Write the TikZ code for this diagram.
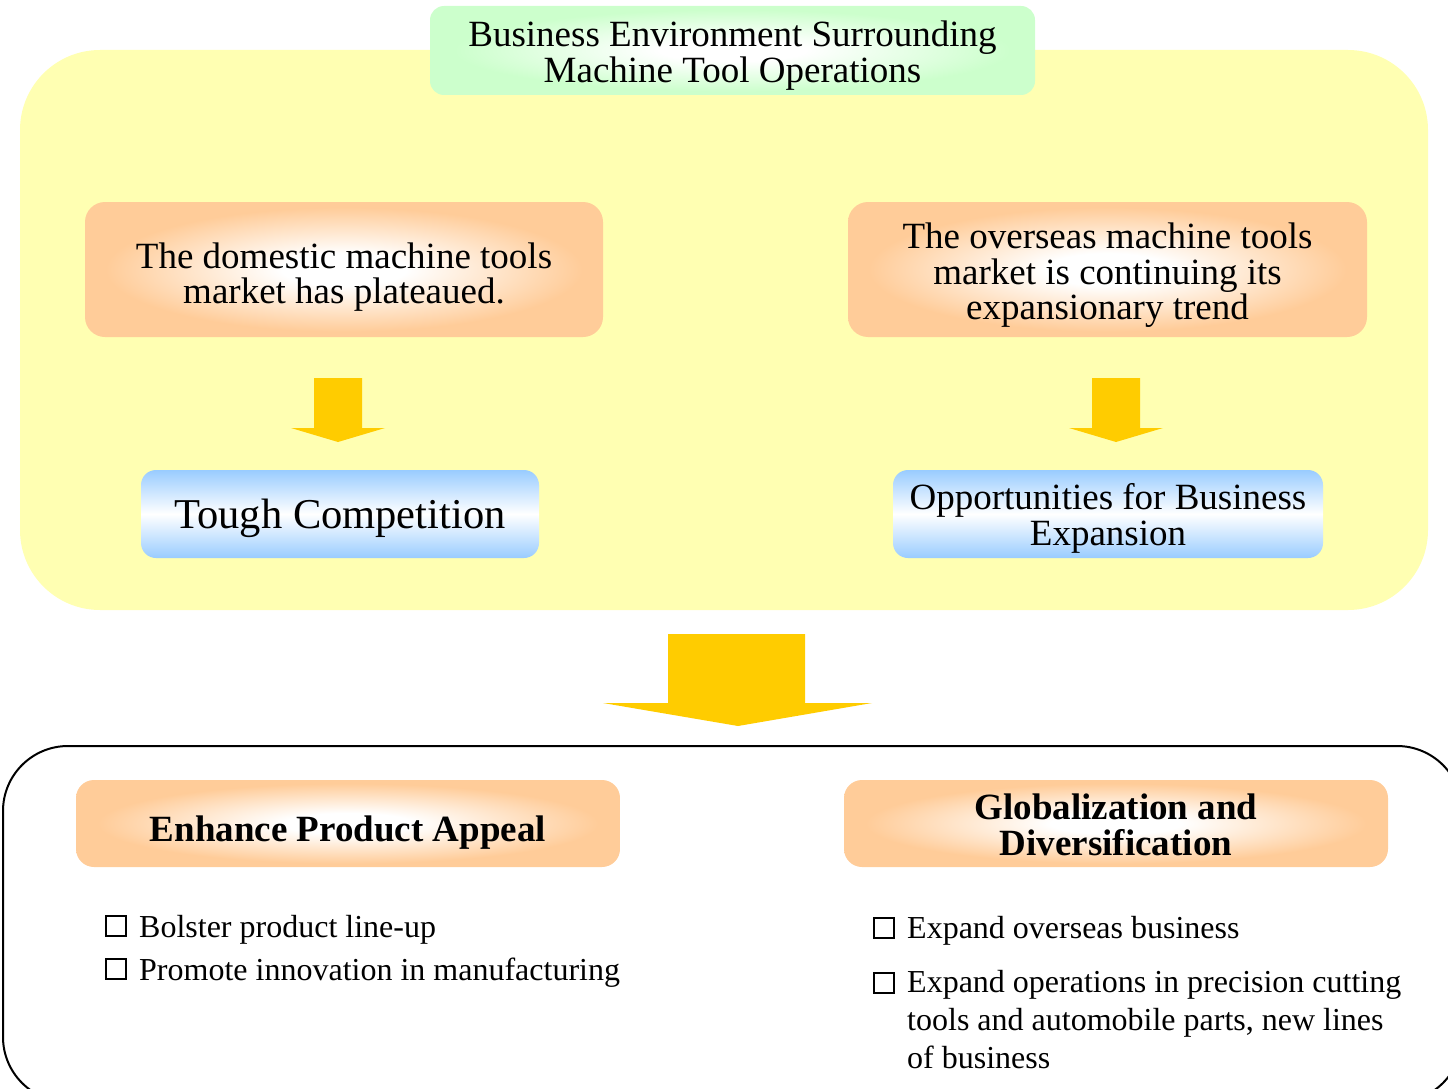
\documentclass[tikz,border=0pt]{standalone}
\usepackage{fontspec}
\setmainfont{Liberation Serif}
\definecolor{peach}{RGB}{255,204,153}
\definecolor{mint}{RGB}{204,255,204}
\definecolor{sky}{RGB}{153,204,255}
\definecolor{pale}{RGB}{255,255,178}
\definecolor{gold}{RGB}{255,204,0}
\pgfdeclareradialshading{peachglow}{\pgfpoint{0bp}{0bp}}{color(0bp)=(white); color(6bp)=(white); color(23bp)=(peach); color(50bp)=(peach)}
\pgfdeclareradialshading{mintglow}{\pgfpoint{0bp}{0bp}}{color(0bp)=(white); color(6bp)=(white); color(23bp)=(mint); color(50bp)=(mint)}
\newcommand\bigtxt{\fontsize{37}{35.5}\selectfont}
\newcommand\listtxt{\fontsize{32}{38}\selectfont}
\tikzset{
  panel/.style={inner sep=0pt, rounded corners=18pt},
  titlebox/.style={panel, shading=mintglow, rounded corners=14pt},
  factbox/.style={panel, shading=peachglow, rounded corners=20pt},
  resultbox/.style={panel, rounded corners=15pt, top color=sky, bottom color=sky, middle color=white},
  goalbox/.style={panel, shading=peachglow, rounded corners=18pt},
  label/.style={inner sep=0pt, align=center, font=\bigtxt},
  boldlabel/.style={label, font=\bigtxt\bfseries},
  blockarrow/.style={fill=gold, draw=none},
  sqbox/.style={draw, line width=1.9pt, minimum size=20.5pt, inner sep=0pt},
  item/.style={anchor=base west, inner sep=0pt, font=\listtxt},
}
\begin{document}
\begin{tikzpicture}[x=1pt, y=-1pt]
\useasboundingbox (0,0) rectangle (1448,1089);
\clip (0,0) rectangle (1448,1089);

% environment panel
\fill[pale, rounded corners=80pt] (20,50) rectangle (1428,610);

\node[titlebox, minimum width=605pt, minimum height=89pt] (title) at (732.5,50.5) {};
\node[label] (titletext) at ([yshift=-5pt]title.center)
  {Business Environment Surrounding\\Machine Tool Operations};

\node[factbox, minimum width=518pt, minimum height=135pt] (dom) at (344,269.5) {};
\node[label] (domtext) at ([yshift=-7.5pt]dom.center)
  {The domestic machine tools\\market has plateaued.};
\node[factbox, minimum width=519pt, minimum height=135pt] (ovs) at (1107.5,269.5) {};
\node[label] (ovstext) at ([yshift=-6pt]ovs.center)
  {The overseas machine tools\\market is continuing its\\expansionary trend};

\node[resultbox, minimum width=398pt, minimum height=88pt] (tough) at (340,514) {};
\node[label, font=\fontsize{42.5}{42}\selectfont] (toughtext) at ([yshift=-4pt]tough.center)
  {Tough Competition};
\node[resultbox, minimum width=430pt, minimum height=88pt] (opp) at (1108,514) {};
\node[label] (opptext) at ([yshift=-4.5pt]opp.center)
  {Opportunities for Business\\Expansion};

% small arrows between the panel rows
\fill[blockarrow] (314,378) -- (362,378) -- (362,428) -- (385,428) -- (338,442)
  -- (291,428) -- (314,428) -- cycle;
\fill[blockarrow] (1092,378) -- (1140,378) -- (1140,428) -- (1163,428) -- (1116,442)
  -- (1069,428) -- (1092,428) -- cycle;

% large arrow down to the strategy panel
\fill[blockarrow] (668,634) -- (805,634) -- (805,703) -- (872,703) -- (738,726)
  -- (603,703) -- (668,703) -- cycle;

% strategy panel
\draw[line width=2pt, rounded corners=65pt] (3,746) rectangle (1462,1102);

\node[goalbox, minimum width=544pt, minimum height=87pt] (appeal) at (348,823.5) {};
\node[boldlabel] (appealtext) at ([yshift=-9pt]appeal.center) {Enhance Product Appeal};
\node[goalbox, minimum width=544pt, minimum height=87pt] (glob) at (1116,823.5) {};
\node[boldlabel] (globtext) at ([yshift=-1.5pt]glob.center) {Globalization and\\Diversification};

% left list
\node[sqbox] (b1) at (116,926) {};
\node[item] (t1) at (139,937) {Bolster product line-up};
\node[sqbox] (b2) at (116,969) {};
\node[item] (t2) at (139,980) {Promote innovation in manufacturing};

% right list
\node[sqbox] (b3) at (884,928) {};
\node[item] (t3) at (907,938) {Expand overseas business};
\node[sqbox] (b4) at (884,983) {};
\node[item] (t4) at (907,992) {Expand operations in precision cutting};
\node[item] (t5) at (907,1030) {tools and automobile parts, new lines};
\node[item] (t6) at (907,1068) {of business};
\end{tikzpicture}
\end{document}
